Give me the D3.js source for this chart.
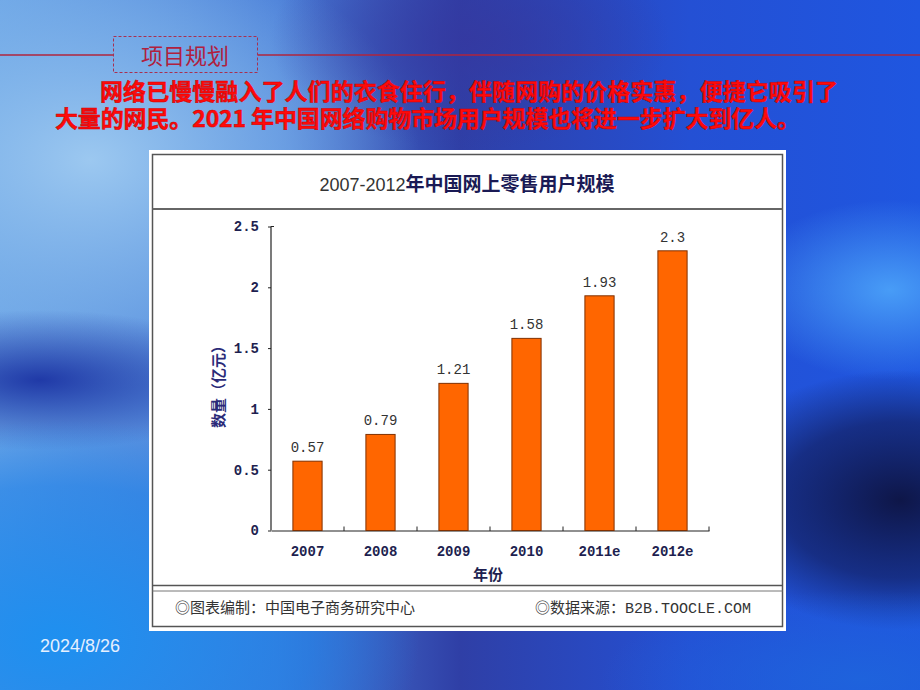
<!DOCTYPE html>
<html><head><meta charset="utf-8">
<script src="https://cdn.jsdelivr.net/npm/d3@7"></script>
<style>html,body{margin:0;padding:0;background:#2050d0;}svg{display:block;}</style>
</head><body>
<script>
const categories = ["2007","2008","2009","2010","2011e","2012e"];
const values = [0.57,0.79,1.21,1.58,1.93,2.3];
const valueLabels = ["0.57","0.79","1.21","1.58","1.93","2.3"];
const yTicks = [0,0.5,1,1.5,2,2.5];
const yTickLabels = ["0","0.5","1","1.5","2","2.5"];
const chartTitleA = "2007-2012";
const chartTitleB = "年中国网上零售用户规模";
const yTitle = "数量（亿元）";
const xTitle = "年份";
const footLeft = "◎图表编制：中国电子商务研究中心";
const footRight = "◎数据来源：B2B.TOOCLE.COM";
const slideTitle = "项目规划";
const para1 = "网络已慢慢融入了人们的衣食住行，伴随网购的价格实惠，便捷它吸引了";
const para2 = "大量的网民。2021 年中国网络购物市场用户规模也将进一步扩大到亿人。";
const dateText = "2024/8/26";

const W = 920, H = 690;
const svg = d3.select("body").append("svg").attr("width", W).attr("height", H);
const defs = svg.append("defs");

function radial(id, stops) {
  const g = defs.append("radialGradient").attr("id", id);
  stops.forEach(s => g.append("stop").attr("offset", s[0]).attr("stop-color", s[1]).attr("stop-opacity", s[2]));
}
const lin = defs.append("linearGradient").attr("id", "bgLin").attr("x1", 0).attr("x2", 1).attr("y1", 0).attr("y2", 0);
[["0%","#6aa4e6"],["30%","#4a7ed8"],["50%","#2f3fa6"],["75%","#2450d4"],["100%","#1f56e0"]].forEach(s => lin.append("stop").attr("offset", s[0]).attr("stop-color", s[1]));

radial("gTL", [["0%","#9cc8f0",1],["60%","#80b4ea",0.6],["100%","#80b4ea",0]]);
radial("gDarkL", [["0%","#1c34a4",0.95],["100%","#1c34a4",0]]);
radial("gBL", [["0%","#1e90f0",1],["70%","#1c80e8",0.6],["100%","#1c80e8",0]]);
radial("gRL", [["0%","#4aa0f8",0.95],["100%","#4aa0f8",0]]);
radial("gRD", [["0%","#0e1648",1],["60%","#121e60",0.7],["100%","#121e60",0]]);
radial("gBR", [["0%","#1e64dc",0.9],["100%","#1e64dc",0]]);
radial("gTop", [["0%","#3538a0",0.8],["100%","#3538a0",0]]);

svg.append("rect").attr("width", W).attr("height", H).attr("fill", "url(#bgLin)");
svg.append("ellipse").attr("cx", 90).attr("cy", 160).attr("rx", 330).attr("ry", 230).attr("fill", "url(#gTL)");
svg.append("ellipse").attr("cx", 470).attr("cy", 40).attr("rx", 200).attr("ry", 110).attr("fill", "url(#gTop)");
svg.append("ellipse").attr("cx", 40).attr("cy", 380).attr("rx", 220).attr("ry", 70).attr("fill", "url(#gDarkL)");
svg.append("ellipse").attr("cx", 60).attr("cy", 640).attr("rx", 360).attr("ry", 220).attr("fill", "url(#gBL)");
svg.append("ellipse").attr("cx", 890).attr("cy", 290).attr("rx", 150).attr("ry", 90).attr("fill", "url(#gRL)");
svg.append("ellipse").attr("cx", 900).attr("cy", 500).attr("rx", 200).attr("ry", 130).attr("fill", "url(#gRD)");
svg.append("ellipse").attr("cx", 860).attr("cy", 680).attr("rx", 260).attr("ry", 90).attr("fill", "url(#gBR)");

// Header line and dashed box
const red = "#b0243c";
svg.append("line").attr("x1", 0).attr("x2", 113).attr("y1", 55).attr("y2", 55).attr("stroke", red).attr("stroke-width", 1.5);
svg.append("line").attr("x1", 258).attr("x2", W).attr("y1", 55).attr("y2", 55).attr("stroke", red).attr("stroke-width", 1.5);
svg.append("rect").attr("x", 113.5).attr("y", 36.5).attr("width", 144).attr("height", 36)
  .attr("fill", "none").attr("stroke", "#a83050").attr("stroke-width", 1).attr("stroke-dasharray", "3,2");
svg.append("text").attr("x", 185).attr("y", 64).attr("text-anchor", "middle")
  .attr("font-family", "Noto Sans CJK SC").attr("font-size", 22).attr("fill", "#b0203e").text(slideTitle);

// Paragraph
const pStyle = t => t.attr("font-family", "Noto Sans CJK SC").attr("font-weight", "bold").attr("font-size", 23)
  .attr("fill", "#ff0a0a").attr("stroke", "#d00000").attr("stroke-width", 0.5);
pStyle(svg.append("text").attr("x", 100).attr("y", 100).attr("textLength", 738).attr("lengthAdjust", "spacing").text(para1));
pStyle(svg.append("text").attr("x", 55).attr("y", 127).attr("textLength", 745).attr("lengthAdjust", "spacing").text(para2));

// Date
svg.append("text").attr("x", 40).attr("y", 652).attr("font-family", "Liberation Sans, Arial")
  .attr("font-size", 18).attr("fill", "#e6f0ff").text(dateText);

// Chart panel
const panel = svg.append("g");
panel.append("rect").attr("x", 149).attr("y", 150).attr("width", 637).attr("height", 481).attr("fill", "#ffffff");
panel.append("rect").attr("x", 152.5).attr("y", 154.5).attr("width", 630).attr("height", 472)
  .attr("fill", "none").attr("stroke", "#555", ).attr("stroke-width", 1.5);
panel.append("line").attr("x1", 152.5).attr("x2", 782.5).attr("y1", 209).attr("y2", 209).attr("stroke", "#666").attr("stroke-width", 2);
panel.append("line").attr("x1", 152.5).attr("x2", 782.5).attr("y1", 585.5).attr("y2", 585.5).attr("stroke", "#555").attr("stroke-width", 1.5);
panel.append("line").attr("x1", 152.5).attr("x2", 782.5).attr("y1", 591).attr("y2", 591).attr("stroke", "#777").attr("stroke-width", 1);

// Chart title
const tt = panel.append("text").attr("x", 467).attr("y", 191).attr("text-anchor", "middle").attr("font-size", 19);
tt.append("tspan").attr("font-family", "Liberation Sans Narrow, Liberation Sans, Arial").attr("font-size", 18).attr("fill", "#333").text(chartTitleA);
tt.append("tspan").attr("font-family", "Noto Sans CJK SC").attr("font-weight", "bold").attr("fill", "#1a1a55").text(chartTitleB);

// Scales
const x = d3.scaleBand().domain(categories).range([271, 709]).paddingInner(0.6).paddingOuter(0.3);
const y = d3.scaleLinear().domain([0, 2.5]).range([530.5, 226.5]);

const navy = "#1e1f50";
// Y axis
const yAxis = d3.axisLeft(y).tickValues(yTicks).tickSize(3).tickPadding(9)
  .tickFormat((d, i) => yTickLabels[i]);
const yg = panel.append("g").attr("transform", "translate(271,0)").call(yAxis);
yg.select(".domain").attr("stroke", "#222").attr("stroke-width", 1.2).attr("d", "M0,226.5V530.5");
yg.selectAll(".tick line").attr("stroke", "#222");
yg.selectAll(".tick text").attr("font-family", "Liberation Mono, DejaVu Sans Mono").attr("font-weight", "bold")
  .attr("font-size", 14).attr("fill", navy);
panel.append("line").attr("x1", 271).attr("x2", 274).attr("y1", 226.5).attr("y2", 226.5).attr("stroke", "#222");

// X axis
const xAxis = d3.axisBottom(x).tickSize(0).tickPadding(16);
const xg = panel.append("g").attr("transform", "translate(0,530.5)").call(xAxis);
xg.select(".domain").attr("stroke", "#222").attr("stroke-width", 1.2);
xg.selectAll(".tick text").attr("font-family", "Liberation Mono, DejaVu Sans Mono").attr("font-weight", "bold")
  .attr("font-size", 14).attr("fill", navy);
// boundary ticks
const bounds = categories.slice(1).map(c => x(c) - x.step() * x.paddingInner() / 2).concat([x.range()[1]]);
panel.selectAll("line.bt").data(bounds).join("line").attr("class", "bt")
  .attr("x1", d => d).attr("x2", d => d).attr("y1", 526.5).attr("y2", 531).attr("stroke", "#222");

// Bars
panel.selectAll("rect.bar").data(values).join("rect").attr("class", "bar")
  .attr("x", (d, i) => x(categories[i]))
  .attr("y", d => y(d))
  .attr("width", x.bandwidth())
  .attr("height", d => y(0) - y(d))
  .attr("fill", "#ff6600").attr("stroke", "#803000").attr("stroke-width", 1);

panel.selectAll("text.vl").data(values).join("text").attr("class", "vl")
  .attr("x", (d, i) => x(categories[i]) + x.bandwidth() / 2)
  .attr("y", d => y(d) - 9)
  .attr("text-anchor", "middle").attr("font-family", "Liberation Mono, DejaVu Sans Mono")
  .attr("font-size", 14).attr("fill", "#333").text((d, i) => valueLabels[i]);

// Axis titles
panel.append("text").attr("transform", "translate(224,383) rotate(-90)").attr("text-anchor", "middle")
  .attr("font-family", "Noto Sans CJK SC").attr("font-weight", "bold").attr("font-size", 15).attr("fill", "#2a2a78").text(yTitle);
panel.append("text").attr("x", 488).attr("y", 580).attr("text-anchor", "middle")
  .attr("font-family", "Noto Sans CJK SC").attr("font-weight", "bold").attr("font-size", 15).attr("fill", navy).text(xTitle);

// Footer
panel.append("text").attr("x", 175).attr("y", 613).attr("font-family", "Liberation Mono, Noto Sans CJK SC")
  .attr("font-size", 15).attr("fill", "#333").text(footLeft);
panel.append("text").attr("x", 535).attr("y", 613).attr("font-family", "Liberation Mono, Noto Sans CJK SC")
  .attr("font-size", 15).attr("fill", "#333").text(footRight);
</script>
</body></html>
